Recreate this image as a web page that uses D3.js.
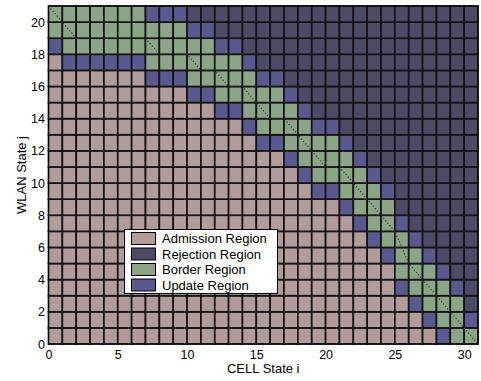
<!DOCTYPE html>
<html>
<head>
<meta charset="utf-8">
<script src="https://cdn.jsdelivr.net/npm/d3@7"></script>
<style>
  html, body { margin: 0; padding: 0; background: #fff; }
  svg { display: block; font-family: "Liberation Sans", Arial, Helvetica, sans-serif; }
</style>
</head>
<body>
<svg id="chart" width="481" height="381"></svg>
<script>
// Region codes: A = admission, R = rejection, B = border, U = update
const regionNames = ["Admission Region", "Rejection Region", "Border Region", "Update Region"];
const regionCodes = ["A", "R", "B", "U"];
const regionColors = ["#b19b9b", "#4b4b66", "#8ba687", "#59598f"];

// CELL states i = 0..30, WLAN states j = 0..20
const cellStates = d3.range(0, 31);
const wlanStates = d3.range(0, 21);

// Region of each (i, j) cell, one row per WLAN state j, as runs of [code, count] from i = 0
const regionRuns = {
  20: [["B", 7], ["U", 3], ["R", 21]],
  19: [["B", 10], ["U", 2], ["R", 19]],
  18: [["U", 1], ["B", 11], ["U", 2], ["R", 17]],
  17: [["A", 1], ["U", 6], ["B", 7], ["U", 1], ["R", 16]],
  16: [["A", 7], ["U", 3], ["B", 5], ["U", 2], ["R", 14]],
  15: [["A", 10], ["U", 2], ["B", 5], ["U", 1], ["R", 13]],
  14: [["A", 12], ["U", 2], ["B", 4], ["U", 1], ["R", 12]],
  13: [["A", 14], ["U", 1], ["B", 4], ["U", 2], ["R", 10]],
  12: [["A", 15], ["U", 2], ["B", 4], ["U", 1], ["R", 9]],
  11: [["A", 17], ["U", 1], ["B", 4], ["U", 1], ["R", 8]],
  10: [["A", 18], ["U", 1], ["B", 4], ["U", 1], ["R", 7]],
  9:  [["A", 19], ["U", 2], ["B", 3], ["U", 1], ["R", 6]],
  8:  [["A", 21], ["U", 1], ["B", 3], ["R", 6]],
  7:  [["A", 22], ["U", 1], ["B", 2], ["U", 1], ["R", 5]],
  6:  [["A", 23], ["U", 1], ["B", 2], ["U", 1], ["R", 4]],
  5:  [["A", 24], ["U", 1], ["B", 2], ["U", 1], ["R", 3]],
  4:  [["A", 25], ["B", 3], ["U", 1], ["R", 2]],
  3:  [["A", 25], ["U", 1], ["B", 3], ["U", 1], ["R", 1]],
  2:  [["A", 26], ["U", 1], ["B", 3], ["R", 1]],
  1:  [["A", 27], ["U", 1], ["B", 2], ["U", 1]],
  0:  [["A", 28], ["U", 1], ["B", 2]]
};

// Threshold boundary (dotted line)
const boundaryI = [0, 2, 7, 8, 10, 11, 12, 13, 14, 16, 17, 20, 21, 25, 26, 31];
const boundaryJ = [21, 19, 19, 18, 18, 17, 17, 16, 16, 14, 14, 11, 11, 7, 5, 0];

const xTicks = [0, 5, 10, 15, 20, 25, 30];
const yTicks = [0, 2, 4, 6, 8, 10, 12, 14, 16, 18, 20];

const svg = d3.select("#chart");

const x = d3.scaleLinear().domain([0, 31]).range([48.5, 478]);
const y = d3.scaleLinear().domain([0, 21]).range([344, 6]);
const color = d3.scaleOrdinal().domain(regionCodes).range(regionColors);

// expand runs into one record per cell
const cells = [];
wlanStates.forEach(j => {
  let i = 0;
  regionRuns[j].forEach(([code, n]) => {
    for (let k = 0; k < n; k++) { cells.push({ i: cellStates[i], j, code }); i++; }
  });
});

svg.append("g").selectAll("rect")
  .data(cells)
  .join("rect")
  .attr("x", d => x(d.i))
  .attr("y", d => y(d.j + 1))
  .attr("width", d => x(d.i + 1) - x(d.i))
  .attr("height", d => y(d.j) - y(d.j + 1))
  .attr("fill", d => color(d.code))
  .attr("stroke", "#141414")
  .attr("stroke-width", 1.7);

// dotted threshold line
const boundary = boundaryI.map((v, k) => [v, boundaryJ[k]]);
svg.append("path")
  .datum(boundary)
  .attr("d", d3.line().x(d => x(d[0])).y(d => y(d[1])))
  .attr("fill", "none")
  .attr("stroke", "#2a2a2a")
  .attr("stroke-width", 1.1)
  .attr("stroke-dasharray", "1.2,2");

// frame
svg.append("rect")
  .attr("x", x(0)).attr("y", y(21))
  .attr("width", x(31) - x(0)).attr("height", y(0) - y(21))
  .attr("fill", "none").attr("stroke", "#000").attr("stroke-width", 1);

// axes
const xAxis = svg.append("g")
  .attr("transform", `translate(0,${y(0)})`)
  .call(d3.axisBottom(x).tickValues(xTicks).tickSize(0).tickPadding(6).tickFormat(d3.format("d")));
const yAxis = svg.append("g")
  .attr("transform", `translate(${x(0)},0)`)
  .call(d3.axisLeft(y).tickValues(yTicks).tickSize(0).tickPadding(3.5).tickFormat(d3.format("d")));
[xAxis, yAxis].forEach(g => {
  g.select(".domain").remove();
  g.selectAll("text").attr("font-size", 12.5).attr("fill", "#000")
    .attr("font-family", "'Liberation Sans', Arial, sans-serif");
});

// axis titles
svg.append("text")
  .attr("x", (x(0) + x(31)) / 2).attr("y", 373)
  .attr("text-anchor", "middle").attr("font-size", 13)
  .text("CELL State i");
svg.append("text")
  .attr("transform", `translate(26,${(y(0) + y(21)) / 2}) rotate(-90)`)
  .attr("text-anchor", "middle").attr("font-size", 13)
  .text("WLAN State j");

// legend
const legend = svg.append("g").attr("transform", "translate(124.5,229.5)");
legend.append("rect")
  .attr("width", 153).attr("height", 64)
  .attr("fill", "#fff").attr("stroke", "#000").attr("stroke-width", 1);
const items = legend.selectAll("g.item")
  .data(regionCodes)
  .join("g")
  .attr("class", "item")
  .attr("transform", (d, k) => `translate(7,${3 + k * 15.5})`);
items.append("rect")
  .attr("width", 24).attr("height", 12)
  .attr("fill", d => color(d))
  .attr("stroke", "#000").attr("stroke-width", 1);
items.append("text")
  .attr("x", 30.5).attr("y", 10.5)
  .attr("font-size", 13)
  .text((d, k) => regionNames[k]);
</script>
</body>
</html>
